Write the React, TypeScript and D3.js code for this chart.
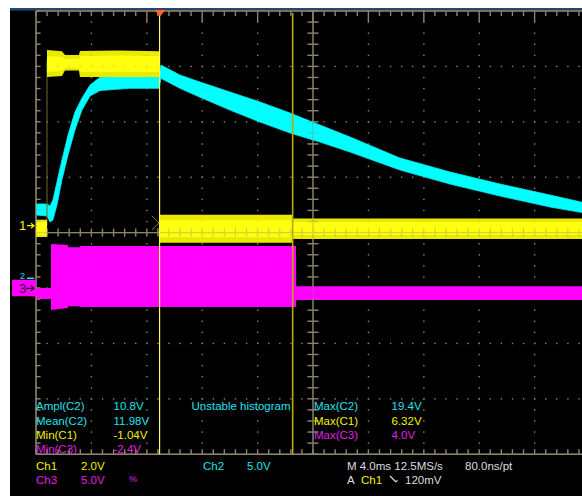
import React from "react";
import * as d3 from "d3";

// ---------- screen geometry ----------
const W = 582;
const H = 496;
const GX0 = 36;
const GY0 = 11;
const DIV = 55.4;
const COLS = 10;
const ROWS = 8;
const MINOR = 5;

// ---------- scope settings ----------
const timePerDiv = 4; // ms
const triggerDiv = 2.238; // trigger position in divisions from the left
const ch1VoltsPerDiv = 2;
const ch1GroundDiv = 3.875;
const ch2VoltsPerDiv = 5;
const ch2GroundDiv = 4.856;
const ch3VoltsPerDiv = 5;
const ch3GroundDiv = 5.005;

// ---------- Ch1 (yellow), volts vs ms ----------
const ch1Time = [-8.95, -8.16, -8.16, -7.08, -6.86, -5.85, -5.78, -3.0, -0.05, -0.05, 9.6, 9.6, 31.05];
const ch1Upper = [0.21, 0.21, 6.34, 6.3, 6.16, 6.16, 6.31, 6.32, 6.3, 0.39, 0.39, 0.26, 0.26];
const ch1Lower = [-0.41, -0.41, 5.37, 5.4, 5.6, 5.6, 5.37, 5.37, 5.37, -0.62, -0.62, -0.48, -0.48];
const ch1CoreUpper = [0.13, 0.13, 6.12, 6.1, 6.02, 6.02, 6.12, 6.14, 6.12, 0.2, 0.2, 0.13, 0.13];
const ch1CoreLower = [-0.34, -0.34, 5.55, 5.58, 5.7, 5.7, 5.55, 5.55, 5.55, -0.42, -0.42, -0.34, -0.34];
const ch1EdgeTime = -8.16;

// ---------- Ch2 (cyan) ----------
const ch2Time = [-8.95, -8.16, -7.94, -7.73, -7.44, -7.08, -6.64, -6.14, -5.63, -5.05, -4.33, -2.17, -0.07, 0.07, 1.44, 2.89, 5.05, 7.22, 9.39, 11.55, 13.72, 17.33, 20.94, 24.55, 28.16, 31.05];
const ch2Upper = [6.86, 6.86, 6.68, 7.22, 8.84, 10.83, 13.09, 15.16, 16.43, 17.6, 18.3, 18.5, 18.5, 19.4, 18.5, 17.87, 16.97, 16.07, 15.07, 13.99, 12.91, 11.01, 9.75, 8.66, 7.67, 6.86];
const ch2Lower = [5.87, 5.78, 5.23, 5.42, 6.77, 9.03, 11.28, 13.54, 15.34, 16.6, 17.1, 17.3, 17.3, 18.2, 17.3, 16.5, 15.34, 14.26, 13.27, 12.45, 11.55, 9.93, 8.66, 7.58, 6.59, 5.96];

// ---------- Ch3 (magenta) ----------
const ch3Time = [-8.95, -7.87, -7.87, -6.64, -6.64, -5.78, -5.78, 9.82, 9.82, 31.05];
const ch3Upper = [0.03, 0.03, 4.0, 3.9, 3.7, 3.7, 3.82, 3.82, 0.18, 0.18];
const ch3Lower = [-0.97, -0.97, -1.96, -1.78, -1.62, -1.62, -1.69, -1.69, -1.06, -1.06];

// ---------- cursors ----------
const cursorTimes = [-0.03, 9.58];

// ---------- readouts ----------
const measLabels = ["Ampl(C2)", "Mean(C2)", "Min(C1)", "Min(C3)"];
const measValues = ["10.8V", "11.98V", "-1.04V", "-2.4V"];
const measChannels = [2, 2, 1, 3];
const maxLabels = ["Max(C2)", "Max(C1)", "Max(C3)"];
const maxValues = ["19.4V", "6.32V", "4.0V"];
const maxChannels = [2, 1, 3];
const warningText = "Unstable histogram";

const COL: Record<number, string> = { 1: "#f2f200", 2: "#22e2ea", 3: "#e024e0" };
const GRID = "#8e846e";
const FONT = "'Liberation Sans', Arial, sans-serif";

function Graticule({ opacity }: { opacity: number }) {
  const gx1 = GX0 + COLS * DIV;
  const gy1 = GY0 + ROWS * DIV;
  const cx = GX0 + (COLS / 2) * DIV;
  const cy = GY0 + (ROWS / 2) * DIV;
  const step = DIV / MINOR;
  const xTicks = d3.range(0, COLS * MINOR + 1).map((i) => GX0 + i * step);
  const yTicks = d3.range(0, ROWS * MINOR + 1).map((i) => GY0 + i * step);
  const els: React.ReactNode[] = [];
  d3.range(1, COLS).forEach((c) => {
    if (c === COLS / 2) return;
    const x = GX0 + c * DIV;
    yTicks.forEach((y, j) => els.push(<rect key={`dv${c}-${j}`} x={x - 0.6} y={y - 0.6} width={1.3} height={1.3} fill={GRID} />));
  });
  d3.range(1, ROWS).forEach((r) => {
    if (r === ROWS / 2) return;
    const y = GY0 + r * DIV;
    xTicks.forEach((x, j) => els.push(<rect key={`dh${r}-${j}`} x={x - 0.6} y={y - 0.6} width={1.3} height={1.3} fill={GRID} />));
  });
  els.push(<line key="bt" x1={GX0} x2={gx1} y1={GY0} y2={GY0} stroke={GRID} strokeWidth={1.5} />);
  els.push(<line key="bb" x1={GX0} x2={gx1} y1={gy1} y2={gy1} stroke={GRID} strokeWidth={1.5} />);
  els.push(<line key="bl" x1={GX0} x2={GX0} y1={GY0} y2={gy1} stroke={GRID} strokeWidth={1.5} />);
  els.push(<line key="ch" x1={GX0} x2={gx1} y1={cy} y2={cy} stroke={GRID} strokeWidth={1.3} />);
  els.push(<line key="cv" x1={cx} x2={cx} y1={GY0} y2={gy1} stroke={GRID} strokeWidth={1.3} />);
  xTicks.forEach((x, i) => {
    const major = i % MINOR === 0 && i > 5;
    els.push(<line key={`tt${i}`} x1={x} x2={x} y1={GY0} y2={GY0 + (major ? 11 : 5)} stroke={GRID} strokeWidth={1.3} />);
    els.push(<line key={`tb${i}`} x1={x} x2={x} y1={gy1} y2={gy1 - 5} stroke={GRID} strokeWidth={1.3} />);
    els.push(<line key={`tc${i}`} x1={x} x2={x} y1={cy - 4} y2={cy + 4} stroke={GRID} strokeWidth={1.3} />);
  });
  yTicks.forEach((y, i) => {
    els.push(<line key={`tl${i}`} x1={GX0} x2={GX0 + 4.5} y1={y} y2={y} stroke={GRID} strokeWidth={1.3} />);
    els.push(<line key={`tv${i}`} x1={cx - 5.5} x2={cx + 5.5} y1={y} y2={y} stroke={GRID} strokeWidth={1.3} />);
  });
  return <g opacity={opacity}>{els}</g>;
}

export default function App() {
  const xScale = d3
    .scaleLinear()
    .domain([-triggerDiv * timePerDiv, (COLS - triggerDiv) * timePerDiv])
    .range([GX0, GX0 + COLS * DIV]);
  const yFor = (vpd: number, groundDiv: number) =>
    d3.scaleLinear().domain([0, vpd]).range([GY0 + groundDiv * DIV, GY0 + (groundDiv - 1) * DIV]);
  const y1 = yFor(ch1VoltsPerDiv, ch1GroundDiv);
  const y2 = yFor(ch2VoltsPerDiv, ch2GroundDiv);
  const y3 = yFor(ch3VoltsPerDiv, ch3GroundDiv);

  const band = (t: number[], hi: number[], lo: number[], ys: d3.ScaleLinear<number, number>) =>
    d3
      .area<number>()
      .x((_, i) => xScale(t[i]))
      .y0((_, i) => ys(lo[i]))
      .y1((_, i) => ys(hi[i]))(t) || "";

  const gy1 = GY0 + ROWS * DIV;
  const trigX = xScale(0);
  const box3Top = y3(0) - 8.5;

  const measY = [410, 424.5, 438.7, 453];
  const textStyle = { fontFamily: FONT, fontSize: 11.5 } as const;

  return (
    <div style={{ position: "absolute", left: 0, top: 0, width: W, height: H }}>
      <svg width={W} height={H} style={{ display: "block" }}>
        <defs>
          <clipPath id="plot">
            <rect x={GX0} y={GY0} width={W - GX0} height={gy1 - GY0} />
          </clipPath>
        </defs>
        <rect x={0} y={0} width={W} height={H} fill="#ffffff" />
        <rect x={10} y={10} width={W - 10} height={H - 10} fill="#000000" />
        <rect x={10} y={8} width={W - 10} height={2.5} fill="#234a6c" />

        <Graticule opacity={1} />

        <g clipPath="url(#plot)">
          <path d={band(ch3Time, ch3Upper, ch3Lower, y3)} fill="#ff00ff" />
          <path d={band(ch2Time, ch2Upper, ch2Lower, y2)} fill="#00ffff" stroke="#00f0f8" strokeWidth={0.8} />
          <line x1={xScale(ch1EdgeTime)} x2={xScale(ch1EdgeTime)} y1={y1(0)} y2={y1(6)} stroke="#6e6a30" strokeWidth={1} />
          <path d={band(ch1Time, ch1Upper, ch1Lower, y1)} fill="#eaea00" />
          <path d={band(ch1Time, ch1CoreUpper, ch1CoreLower, y1)} fill="#ffff10" />
        </g>

        <Graticule opacity={0.35} />

        {/* trigger level marker */}
        <polyline points={`${trigX - 8},${y1(0.35)} ${trigX - 1},${y1(0.1)} ${trigX - 8},${y1(-0.15)}`} fill="none" stroke="#8a8430" strokeWidth={1} />

        {/* cursors */}
        <line x1={xScale(cursorTimes[0])} x2={xScale(cursorTimes[0])} y1={GY0 + 2} y2={gy1} stroke="#ffff50" strokeWidth={1.2} />
        <line x1={xScale(cursorTimes[1])} x2={xScale(cursorTimes[1])} y1={GY0 + 2} y2={gy1} stroke="#b8ac00" strokeWidth={1.6} />

        {/* trigger position marker */}
        <path d={`M${trigX - 5.5},10 L${trigX + 5.5},10 L${trigX},16.5 Z`} fill="#ff6a22" />

        {/* channel ground markers */}
        <text x={19} y={y1(0) + 4.5} fill={COL[1]} style={{ ...textStyle, fontSize: 13 }}>1</text>
        <path d={`M27,${y1(0)} L34,${y1(0)} M31,${y1(0) - 2.5} L34,${y1(0)} L31,${y1(0) + 2.5}`} stroke={COL[1]} strokeWidth={1.2} fill="none" />
        <text x={20} y={box3Top - 0.5} fill={COL[2]} style={{ ...textStyle, fontSize: 9 }}>2</text>
        <path d={`M27,${box3Top - 1.5} L34,${box3Top - 1.5}`} stroke={COL[2]} strokeWidth={1.5} fill="none" />
        <rect x={12} y={box3Top} width={24} height={16.5} fill="#ff00ff" />
        <text x={19} y={y3(0) + 5} fill="#3a003a" style={{ ...textStyle, fontSize: 13 }}>3</text>
        <path d={`M26,${y3(0)} L34,${y3(0)} M31,${y3(0) - 2.5} L34,${y3(0)} L31,${y3(0) + 2.5}`} stroke="#200020" strokeWidth={1.2} fill="none" />

        {/* measurement readouts */}
        {measLabels.map((l, i) => (
          <g key={l} style={textStyle}>
            <text x={36} y={measY[i]} fill={COL[measChannels[i]]}>{l}</text>
            <text x={113.5} y={measY[i]} fill={COL[measChannels[i]]}>{measValues[i]}</text>
          </g>
        ))}
        <text x={191.5} y={measY[0]} fill={COL[2]} style={textStyle}>{warningText}</text>
        {maxLabels.map((l, i) => (
          <g key={l} style={textStyle}>
            <text x={314} y={measY[i]} fill={COL[maxChannels[i]]}>{l}</text>
            <text x={391.5} y={measY[i]} fill={COL[maxChannels[i]]}>{maxValues[i]}</text>
          </g>
        ))}

        {/* status bar */}
        <g style={textStyle}>
          <text x={36} y={470} fill={COL[1]}>Ch1</text>
          <text x={81} y={470} fill={COL[1]}>2.0V</text>
          <text x={203} y={470} fill={COL[2]}>Ch2</text>
          <text x={247} y={470} fill={COL[2]}>5.0V</text>
          <text x={36} y={483.5} fill={COL[3]}>Ch3</text>
          <text x={81} y={483.5} fill={COL[3]}>5.0V</text>
          <text x={129} y={482} fill={COL[3]} style={{ fontSize: 9 }}>%</text>
          <text x={347} y={470} fill="#dcdcdc">M 4.0ms 12.5MS/s</text>
          <text x={465} y={470} fill="#dcdcdc">80.0ns/pt</text>
          <text x={347} y={483.5} fill="#dcdcdc">A</text>
          <text x={361} y={483.5} fill={COL[1]}>Ch1</text>
          <path d="M390,476 L396,482 M396,482 L397.5,480" stroke="#dcdcdc" strokeWidth={1.2} fill="none" />
          <text x={405} y={483.5} fill="#dcdcdc">120mV</text>
        </g>
      </svg>
    </div>
  );
}
